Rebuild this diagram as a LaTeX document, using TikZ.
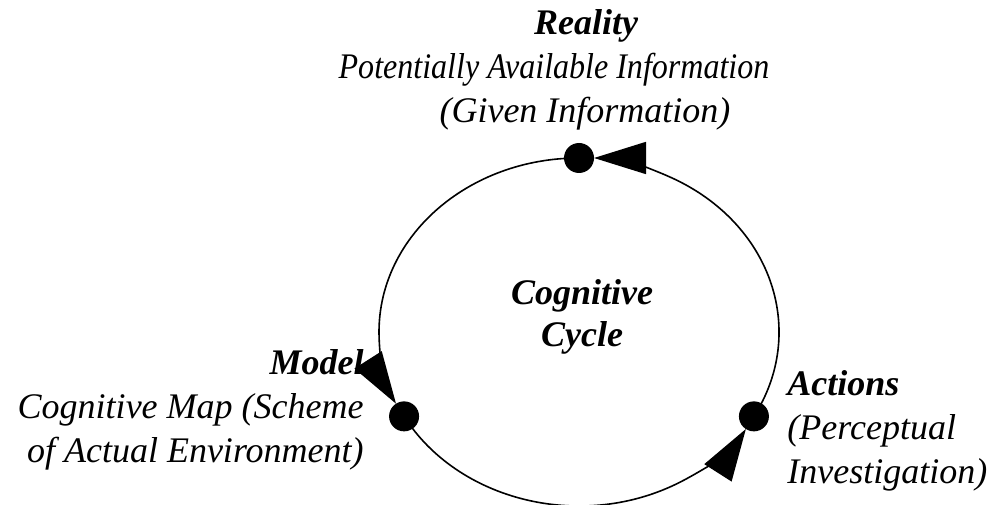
\documentclass[tikz,border=0pt]{standalone}
\usepackage{fontspec}
\setmainfont{Liberation Serif}
\usepackage{graphicx}
\usetikzlibrary{arrows.meta,calc}

\begin{document}
\begin{tikzpicture}[x=0.5pt,y=0.5pt,
	hub/.style={circle,fill,inner sep=0pt,minimum size=15pt},
	heading/.style={font=\fontsize{18}{21}\selectfont\bfseries\itshape,inner sep=0pt},
	textline/.style={font=\fontsize{18}{22}\selectfont\itshape,inner sep=0pt},
	flow/.style={line width=0.8pt,-{Triangle[length=26pt,width=16pt]},shorten >=7.5pt}]
\useasboundingbox (0,0) rectangle (997,504);
\coordinate (c) at (579,172);
\coordinate (realitypos) at ($(c)+(90:200 and 174)$);
\coordinate (modelpos) at ($(c)+(209:200 and 174)$);
\coordinate (actionspos) at ($(c)+(331:200 and 174)$);
% the cycle
\draw [flow] (actionspos) arc [start angle=-29, end angle=90, x radius=200, y radius=174];
\draw [flow] (realitypos) arc [start angle=90, end angle=209, x radius=200, y radius=174];
\draw [flow] (modelpos) arc [start angle=209, end angle=331, x radius=200, y radius=174];
\node [hub] (realitydot) at (realitypos) {};
\node [hub] (modeldot) at (modelpos) {};
\node [hub] (actionsdot) at (actionspos) {};
% labels (base = last line)
\node [heading,anchor=base] (reality) at (586,469) {Reality};
\node [textline,anchor=base] (realityinfo) at (554,425) {\scalebox{0.89}[1]{Potentially Available Information}};
\node [textline,anchor=base] (realitygiven) at (585,381) {(Given Information)};
\node [heading,anchor=base,align=center] (cogcycle) at (582,157) {Cognitive\\Cycle};
\node [textline,anchor=base east,align=right] (model) at (364,41) {\textbf{Model}\\Cognitive Map (Scheme\\of Actual Environment)};
\node [textline,anchor=base west,align=left] (actions) at (787,20) {\textbf{Actions}\\(Perceptual\\Investigation)};
\end{tikzpicture}
\end{document}
